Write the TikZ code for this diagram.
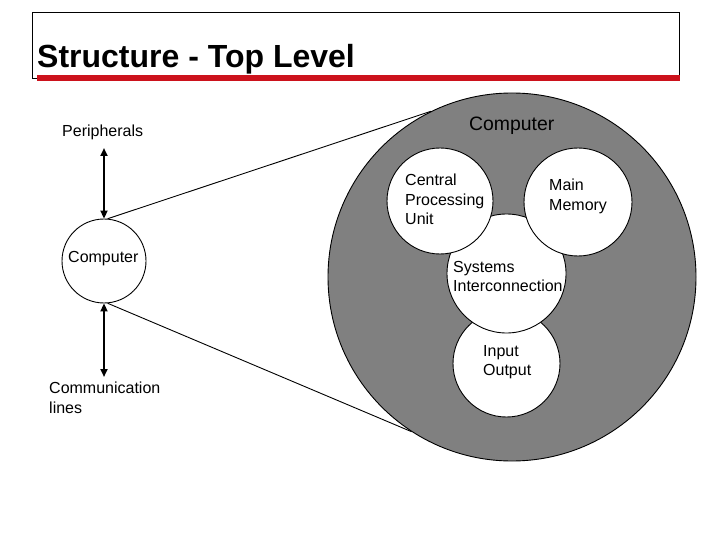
\documentclass[tikz,border=0pt]{standalone}
\usepackage{fontspec}
\setmainfont{Liberation Sans}
\usetikzlibrary{arrows.meta}
\definecolor{titlered}{RGB}{204,18,28}
\definecolor{hatchgray}{RGB}{128,128,128}
\begin{document}
\begin{tikzpicture}[x=1pt,y=-1pt,
  thinline/.style={draw=black, line width=0.9pt},
  part/.style={circle, draw=black, line width=0.9pt, fill=white, inner sep=0pt},
  lbl/.style={font=\fontsize{16}{19.5}\selectfont, inner sep=0pt, align=left, anchor=west},
  dbl/.style={line width=2.2pt, {Triangle[length=8pt,width=7pt]}-{Triangle[length=8pt,width=7pt]}}
]
\useasboundingbox (0,0) rectangle (720,540);
\fill[white] (0,0) rectangle (720,540);
% title
\draw[line width=0.9pt] (32,12) rectangle (679,78);
\fill[titlered] (37,75) rectangle (680,81);
\node[font=\bfseries\fontsize{32}{36}\selectfont, anchor=base west, inner sep=0pt] (title) at (37,68) {Structure - Top Level};
% big computer
\node[circle, draw=black, line width=0.9pt, fill=hatchgray, minimum size=368pt, inner sep=0pt] (big) at (512,277) {};
\node[part, minimum size=107pt] (io) at (506.5,363.5) {};
\node[part, minimum size=119pt] (si) at (506.5,273.5) {};
\node[part, minimum size=106pt] (cpu) at (440,201) {};
\node[part, minimum size=108pt] (mm) at (578,202) {};
% small computer
\node[part, minimum size=84pt] (small) at (104,261) {};
\draw[thinline] (small.85) -- (big.116);
\draw[thinline] (small.275) -- (big.237);
\coordinate (ptop) at (104,148);
\coordinate (pbot) at (104,377);
\draw[dbl] (ptop) -- (small.north);
\draw[dbl] (small.south) -- (pbot);
% labels
\node[lbl, anchor=base west] (peri) at (62,136.5) {Peripherals};
\node[lbl, anchor=base west] (compl) at (68,262) {Computer};
\node[lbl] (comm) at (49,397.6) {Communication\\lines};
\node[font=\fontsize{19.4}{22}\selectfont, anchor=base west, inner sep=0pt] (bigl) at (469,130.5) {Computer};
\node[lbl] (cpul) at (405,199.3) {Central\\Processing\\Unit};
\node[lbl] (mml) at (549,196.3) {Main\\Memory};
\node[lbl] (sil) at (453,276.6) {Systems\\Interconnection};
\node[lbl] (iol) at (483,362.3) {Input\\Output};
\end{tikzpicture}
\end{document}
